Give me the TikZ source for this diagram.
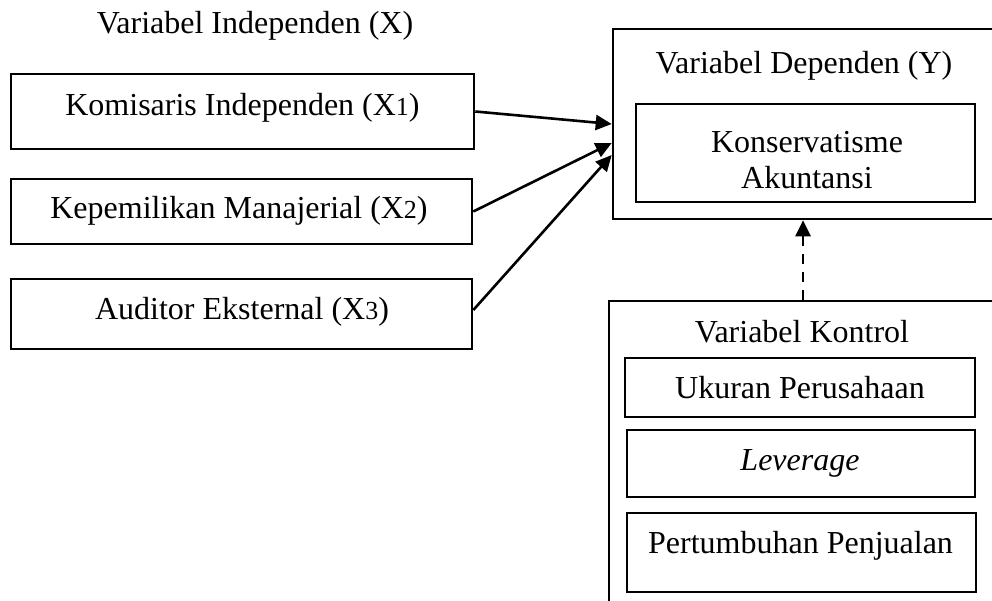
\documentclass[tikz,border=0pt]{standalone}
\usepackage{fontspec}
\setmainfont{Liberation Serif}
\usetikzlibrary{arrows.meta,calc}
\tikzset{
  box/.style={draw, line width=2.6pt, rectangle, inner sep=0pt},
  lbl/.style={anchor=base, inner sep=0pt, align=center, font=\fontsize{32}{36}\selectfont},
  conn/.style={line width=2.6pt, -{Triangle[length=16pt,width=15pt]}},
  dashconn/.style={conn, line width=2.8pt, dash pattern=on 10pt off 8pt},
}
\newcommand{\subsm}[1]{{\fontsize{26}{30}\selectfont #1}}
\begin{document}
\begin{tikzpicture}[x=1pt,y=-1pt]
\useasboundingbox (0,0) rectangle (992,600);
\clip (0,0) rectangle (992,600);
% independent boxes
\node[box, minimum width=463pt, minimum height=75pt] (k1) at (242.5,111.5) {};
\node[box, minimum width=461pt, minimum height=65pt] (k2) at (241.5,211.5) {};
\node[box, minimum width=461pt, minimum height=70pt] (k3) at (241.5,314) {};
% dependent
\node[box, minimum width=381pt, minimum height=190pt] (ybox) at (803.5,124) {};
\node[box, minimum width=339pt, minimum height=98pt] (yin) at (805.5,153) {};
% control
\node[box, minimum width=388pt, minimum height=319pt] (ctrl) at (803,460.5) {};
\node[box, minimum width=350pt, minimum height=59pt] (c1) at (800,387.5) {};
\node[box, minimum width=348pt, minimum height=67pt] (c2) at (801,463.5) {};
\node[box, minimum width=349pt, minimum height=79pt] (c3) at (801.5,552.5) {};
% texts
\node[lbl] (tx) at (255,33) {Variabel Independen (X)};
\node[lbl] (t1) at (242.5,115) {Komisaris Independen (X\subsm{1})};
\node[lbl] (t2) at (239,218) {Kepemilikan Manajerial (X\subsm{2})};
\node[lbl] (t3) at (242,319) {Auditor Eksternal (X\subsm{3})};
\node[lbl] (ty) at (804,73) {Variabel Dependen (Y)};
\node[lbl] (tyin) at (807,188) {Konservatisme\\Akuntansi};
\node[lbl] (tc) at (802,342) {Variabel Kontrol};
\node[lbl] (tc1) at (800,398) {Ukuran Perusahaan};
\node[lbl] (tc2) at (800,470) {\itshape Leverage};
\node[lbl] (tc3) at (800.5,553) {Pertumbuhan Penjualan};
% connectors
\draw[conn] (k1.east) -- (ybox.west);
\draw[conn] (k2.east) -- ([yshift=-19pt]ybox.west);
\draw[conn] ([yshift=4pt]k3.east) -- ([yshift=-31pt]ybox.west);
\draw[dashconn] (ctrl.north) -- (ctrl.north |- ybox.south);
\end{tikzpicture}
\end{document}
